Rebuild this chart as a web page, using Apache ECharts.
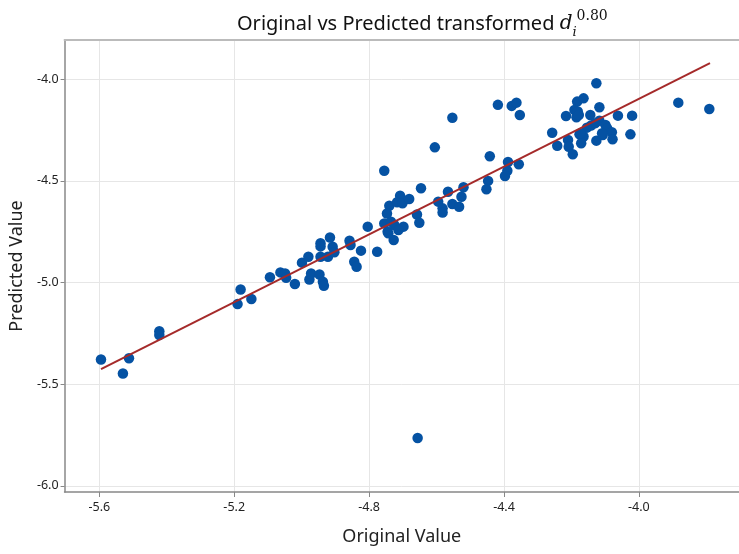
<!DOCTYPE html>
<html>
<head>
<meta charset="utf-8">
<script src="https://cdn.jsdelivr.net/npm/echarts@6/dist/echarts.min.js"></script>
<style>
  html, body { margin: 0; padding: 0; background: #fff; }
  #main { width: 739px; height: 554px; }
</style>
</head>
<body>
<div id="main"></div>
<script>
// original (x) vs predicted (y) values
var origX = [
  -5.595, -5.530, -5.512, -5.422, -5.422, -5.190, -5.181, -5.149, -5.094, -5.063,
  -5.049, -5.046, -5.020, -4.999, -4.980, -4.977, -4.972, -4.947, -4.937, -4.934,
  -4.944, -4.944, -4.944, -4.916, -4.922, -4.908, -4.903, -4.858, -4.855, -4.824,
  -4.844, -4.837, -4.804, -4.755, -4.646, -4.776, -4.740, -4.747, -4.708, -4.717,
  -4.701, -4.681, -4.755, -4.735, -4.725, -4.745, -4.727, -4.698, -4.713, -4.658,
  -4.651, -4.595, -4.582, -4.582, -4.566, -4.553, -4.533, -4.520, -4.526, -4.447,
  -4.452, -4.605, -4.553, -4.442, -4.388, -4.390, -4.397, -4.356, -4.418, -4.377,
  -4.363, -4.353, -4.257, -4.242, -4.216, -4.210, -4.208, -4.196, -4.183, -4.164,
  -4.191, -4.181, -4.185, -4.176, -4.164, -4.171, -4.126, -4.117, -4.144, -4.154,
  -4.142, -4.117, -4.099, -4.126, -4.107, -4.094, -4.080, -4.078, -4.062, -4.025,
  -4.020, -3.883, -3.791, -4.656, -4.173, -4.129, -4.109, -4.743, -4.178
];
var predY = [
  -5.378, -5.447, -5.372, -5.239, -5.258, -5.106, -5.034, -5.081, -4.974, -4.950,
  -4.955, -4.976, -5.007, -4.902, -4.873, -4.985, -4.955, -4.960, -4.996, -5.016,
  -4.873, -4.807, -4.822, -4.778, -4.873, -4.824, -4.851, -4.794, -4.815, -4.843,
  -4.898, -4.922, -4.725, -4.450, -4.536, -4.848, -4.622, -4.660, -4.573, -4.605,
  -4.610, -4.589, -4.709, -4.701, -4.717, -4.750, -4.791, -4.725, -4.742, -4.665,
  -4.706, -4.602, -4.635, -4.655, -4.553, -4.614, -4.627, -4.531, -4.578, -4.500,
  -4.541, -4.335, -4.189, -4.379, -4.407, -4.450, -4.476, -4.418, -4.126, -4.131,
  -4.115, -4.176, -4.263, -4.327, -4.181, -4.299, -4.332, -4.369, -4.110, -4.094,
  -4.151, -4.159, -4.187, -4.271, -4.282, -4.315, -4.020, -4.138, -4.176, -4.238,
  -4.228, -4.204, -4.225, -4.302, -4.274, -4.241, -4.261, -4.295, -4.179, -4.271,
  -4.179, -4.115, -4.146, -5.764, -4.266, -4.216, -4.266, -4.758, -4.176
];
// fitted line end points
var fitX = [-5.595, -3.789];
var fitY = [-5.426, -3.921];
var xTicks = [-5.6, -5.2, -4.8, -4.4, -4.0];
var yTicks = [-6.0, -5.5, -5.0, -4.5, -4.0];

var points = origX.map(function (x, i) { return [x, predY[i]]; });
var fit = fitX.map(function (x, i) { return [x, fitY[i]]; });

var chart = echarts.init(document.getElementById('main'));
var font = 'Noto Sans';
var option = {
  animation: false,
  backgroundColor: '#fff',
  title: {
    text: '{a|Original vs Predicted transformed }{d|d}{sub|i}{sup|0.80}',
    left: 232,
    top: 4,
    textStyle: {
      fontWeight: 'normal',
      rich: {
        a: { fontFamily: font, fontSize: 20, fontWeight: 'normal', color: '#111', lineHeight: 30, verticalAlign: 'middle' },
        d: { fontFamily: 'DejaVu Serif', fontStyle: 'italic', fontWeight: 'normal', fontSize: 20, color: '#111', lineHeight: 30, verticalAlign: 'middle' },
        sub: { fontFamily: 'DejaVu Serif', fontStyle: 'italic', fontWeight: 'normal', fontSize: 13, color: '#111', lineHeight: 18, verticalAlign: 'bottom' },
        sup: { fontFamily: 'DejaVu Serif', fontWeight: 'normal', fontSize: 14, color: '#111', lineHeight: 15, verticalAlign: 'top' }
      }
    }
  },
  grid: { left: 63, right: 0, top: 40, bottom: 62, containLabel: false },
  xAxis: [{
    type: 'value',
    min: -5.703,
    max: -3.703,
    name: 'Original Value',
    nameLocation: 'middle',
    nameGap: 36,
    nameTextStyle: { fontFamily: font, fontSize: 18, color: '#222' },
    axisLine: { show: true, lineStyle: { color: '#888', width: 1.5 } },
    axisTick: { show: true, length: 5, lineStyle: { color: '#888' }, customValues: xTicks },
    axisLabel: { customValues: xTicks, fontFamily: font, fontSize: 12.5, color: '#222', margin: 9,
      formatter: function (v) { return v.toFixed(1); } },
    splitLine: { show: true, lineStyle: { color: '#e6e6e6', width: 1 } }
  }, {
    type: 'value',
    position: 'top',
    min: -5.703,
    max: -3.703,
    axisLine: { show: true, lineStyle: { color: '#bbb', width: 2 } },
    axisTick: { show: false },
    axisLabel: { show: false },
    splitLine: { show: false }
  }],
  yAxis: {
    type: 'value',
    min: -6.03,
    max: -3.807,
    name: 'Predicted Value',
    nameLocation: 'middle',
    nameGap: 33,
    nameTextStyle: { fontFamily: font, fontSize: 18, color: '#222' },
    axisLine: { show: true, lineStyle: { color: '#888', width: 1.5 } },
    axisTick: { show: true, length: 4, lineStyle: { color: '#888' }, customValues: yTicks },
    axisLabel: { customValues: yTicks, fontFamily: font, fontSize: 12.5, color: '#222', margin: 6,
      formatter: function (v) { return v.toFixed(1); } },
    splitLine: { show: true, lineStyle: { color: '#e6e6e6', width: 1 } }
  },
  series: [{
    type: 'scatter',
    data: points,
    symbolSize: 10.5,
    itemStyle: { color: '#0552a3', opacity: 1 },
    z: 2
  }, {
    type: 'line',
    data: fit,
    showSymbol: false,
    lineStyle: { color: '#a52a2a', width: 2 },
    z: 3
  }]
};
chart.setOption(option);
</script>
</body>
</html>
